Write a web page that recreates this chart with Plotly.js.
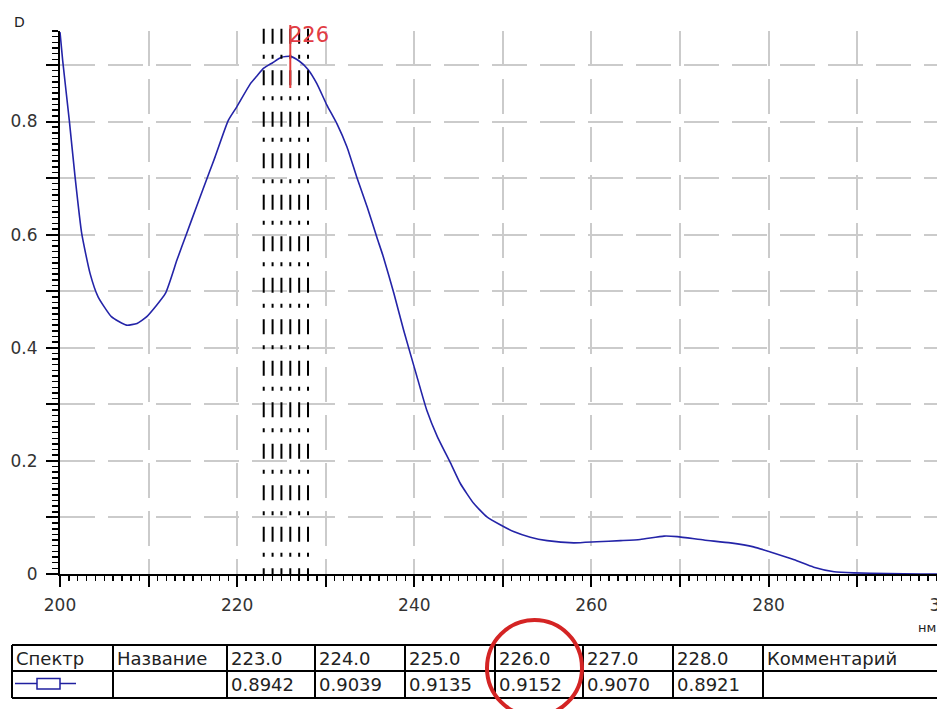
<!DOCTYPE html>
<html>
<head>
<meta charset="utf-8">
<script src="https://cdn.plot.ly/plotly-3.0.1.min.js"></script>
<style>
html,body{margin:0;padding:0;overflow:hidden;background:#fff;}
#chart{width:946px;height:709px;}
</style>
</head>
<body>
<div id="chart"></div>
<script>
// ---- data ----
const wavelength = [200.0,200.3,201.05,201.7,202.45,203.4,204.3,205.8,207.5,208.7,209.8,211.9,213.2,214.3,215.4,216.9,217.5,219.0,219.96,221.5,222.2,223.0,224.0,225.0,226.0,227.0,228.0,229.0,230.1,231.3,232.4,233.5,234.7,235.8,236.5,237.7,238.8,240.3,241.4,242.6,244.1,245.2,246.7,248.2,249.7,251.2,253.1,255.0,258.0,260.6,263.3,265.5,268.2,269.7,272.7,275.7,278.3,280.2,282.9,285.1,287.4,289.6,293.4,297.2,300.0];
const absorbance = [0.958,0.908,0.802,0.702,0.602,0.531,0.490,0.455,0.440,0.443,0.455,0.496,0.555,0.602,0.649,0.712,0.737,0.802,0.826,0.867,0.880,0.8942,0.9039,0.9135,0.9152,0.9070,0.8921,0.867,0.830,0.795,0.755,0.702,0.648,0.594,0.561,0.496,0.431,0.349,0.290,0.243,0.196,0.160,0.125,0.101,0.087,0.075,0.065,0.059,0.055,0.057,0.059,0.061,0.067,0.066,0.060,0.055,0.048,0.039,0.025,0.012,0.004,0.002,0.001,0.000,0.000];
const markWl = [223.0,224.0,225.0,226.0,227.0,228.0];
const markVal = [0.8942,0.9039,0.9135,0.9152,0.9070,0.8921];
const peakWl = 226;
const xTickVals = [200,210,220,230,240,250,260,270,280,290,300];
const xTickText = ['200','','220','','240','','260','','280','','300'];
const yTickVals = [0,0.1,0.2,0.3,0.4,0.5,0.6,0.7,0.8,0.9];
const yTickText = ['0','','0.2','','0.4','','0.6','','0.8',''];
const headFirst = ['Спектр','Название'];
const headLast = 'Комментарий';
const yLabel = 'D';
const xUnit = 'нм';

// ---- geometry helpers (pixel -> paper) ----
const W = 946, H = 709, ML = 60, MR = 0, MT = 31, MB = 135;
const PW = W - ML - MR, PH = H - MT - MB;
const px = v => (v - ML) / PW;
const py = v => (H - MB - v) / PH;

const shapes = [];
const annotations = [];

// dashed black markers at selected wavelengths
markWl.forEach(w => {
  shapes.push({type:'line', xref:'x', yref:'paper', x0:w, x1:w, y0:1.004, y1:0,
    line:{color:'#000', width:2, dash:'15px,11px,4px,11.5px'}, layer:'above'});
});
// red peak marker
shapes.push({type:'line', xref:'x', yref:'paper', x0:peakWl, x1:peakWl, y0:py(25), y1:py(88),
  line:{color:'#e23c3c', width:2}, layer:'above'});
annotations.push({xref:'x', yref:'paper', x:peakWl, y:py(35), text:String(peakWl),
  showarrow:false, xanchor:'left', yanchor:'middle', xshift:-3,
  font:{family:'DejaVu Sans', size:21, color:'#e23c44'}});

// axis titles
annotations.push({xref:'paper', yref:'paper', x:px(19), y:py(21.5), text:yLabel, showarrow:false,
  xanchor:'center', yanchor:'middle', font:{family:'DejaVu Sans', size:14, color:'#222'}});
annotations.push({xref:'paper', yref:'paper', x:px(916), y:py(627), text:xUnit, showarrow:false,
  xanchor:'left', yanchor:'middle', font:{family:'DejaVu Sans', size:13, color:'#222'}});

// ---- table ----
const colEdges = [12,113,227,315,405,495,583,673,763,946];
const rowEdges = [645,671,698];
const header = headFirst.concat(markWl.map(v => v.toFixed(1)), [headLast]);
const values = ['', ''].concat(markVal.map(v => v.toFixed(4)), ['']);
rowEdges.forEach(r => shapes.push({type:'line', xref:'paper', yref:'paper',
  x0:px(colEdges[0]), x1:px(colEdges[colEdges.length-1]), y0:py(r), y1:py(r),
  line:{color:'#000', width:2}}));
colEdges.forEach(c => shapes.push({type:'line', xref:'paper', yref:'paper',
  x0:px(c), x1:px(c), y0:py(rowEdges[0]), y1:py(rowEdges[2]),
  line:{color:'#000', width:2}}));
header.forEach((t, i) => annotations.push({xref:'paper', yref:'paper', x:px(colEdges[i]+2), y:py(658),
  text:t, showarrow:false, xanchor:'left', yanchor:'middle',
  font:{family:'DejaVu Sans', size:18, color:'#222'}}));
values.forEach((t, i) => { if (t) annotations.push({xref:'paper', yref:'paper', x:px(colEdges[i]+2), y:py(684),
  text:t, showarrow:false, xanchor:'left', yanchor:'middle',
  font:{family:'DejaVu Sans', size:18, color:'#222'}}); });
// legend swatch in table
shapes.push({type:'line', xref:'paper', yref:'paper', x0:px(15), x1:px(76), y0:py(683.5), y1:py(683.5),
  line:{color:'#2020a0', width:1.5}});
shapes.push({type:'rect', xref:'paper', yref:'paper', x0:px(37), x1:px(60), y0:py(678.5), y1:py(689),
  line:{color:'#2020a0', width:1.5}, fillcolor:'#ffffff'});
// red hand-drawn circle around peak column
shapes.push({type:'circle', xref:'paper', yref:'paper', x0:px(487), x1:px(582), y0:py(620), y1:py(716),
  line:{color:'#d42424', width:4}});

const trace = {x: wavelength, y: absorbance, type:'scatter', mode:'lines',
  line:{color:'#2424a8', width:1.6, shape:'spline', smoothing:0.5}, hoverinfo:'skip'};

const gridDash = '35px,13px';
const layout = {
  width: W, height: H,
  margin:{l:ML, r:MR, t:MT, b:MB, pad:0},
  paper_bgcolor:'#fff', plot_bgcolor:'#fff',
  showlegend:false,
  font:{family:'DejaVu Sans', size:17, color:'#333'},
  xaxis:{range:[200,300.03], tickmode:'array', tickvals:xTickVals, ticktext:xTickText,
    showgrid:true, gridcolor:'#cbcbcb', gridwidth:2, griddash:gridDash,
    zeroline:false, showline:true, linecolor:'#000', linewidth:2,
    ticks:'outside', ticklen:11, tickwidth:2, tickcolor:'#000', ticklabelstandoff:4,
    ticklabeloverflow:'allow',
    tickfont:{family:'DejaVu Sans', size:17, color:'#333'},
    minor:{tickmode:'linear', tick0:200, dtick:1, ticks:'outside', ticklen:5, tickwidth:1.5, tickcolor:'#000', showgrid:false},
    automargin:false, fixedrange:true},
  yaxis:{range:[0,0.96], tickmode:'array', tickvals:yTickVals, ticktext:yTickText,
    showgrid:true, gridcolor:'#cbcbcb', gridwidth:2, griddash:gridDash,
    zeroline:false, showline:true, linecolor:'#000', linewidth:2,
    ticks:'outside', ticklen:12, tickwidth:2, tickcolor:'#000', ticklabelstandoff:5,
    tickfont:{family:'DejaVu Sans', size:17, color:'#333'},
    minor:{tickmode:'linear', tick0:0, dtick:0.01, ticks:'outside', ticklen:6, tickwidth:1.5, tickcolor:'#000', showgrid:false},
    automargin:false, fixedrange:true},
  shapes: shapes,
  annotations: annotations
};
Plotly.newPlot('chart', [trace], layout, {displayModeBar:false, staticPlot:true});
</script>
</body>
</html>
